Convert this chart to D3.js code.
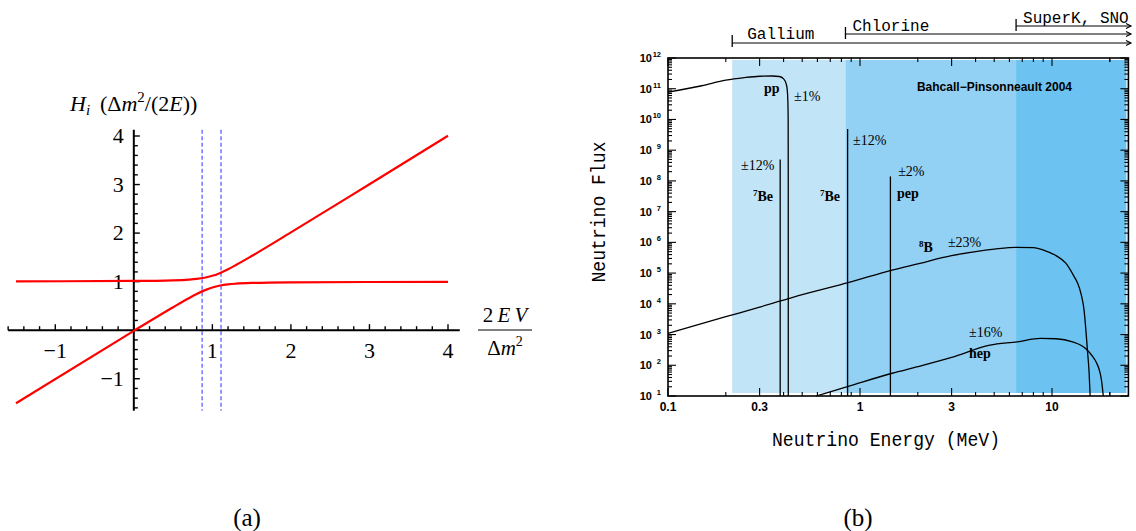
<!DOCTYPE html>
<html><head><meta charset="utf-8">
<script src="https://cdn.jsdelivr.net/npm/d3@7"></script>
<style>body{margin:0;background:#fff}svg{display:block}</style>
</head><body>
<svg id="c" width="1136" height="531"></svg>
<script>
// ---------------- Panel (a) data ----------------
const aX      = [-1.5, 0, 0.5, 0.7, 0.8, 0.9, 1.0, 1.1, 1.2, 1.3, 1.5, 2, 3, 4];
const aUpper  = [1.006, 1.014, 1.027, 1.042, 1.056, 1.08, 1.12, 1.18, 1.256, 1.342, 1.527, 2.014, 3.007, 4.005];
const aLower  = [-1.506, -0.014, 0.473, 0.658, 0.744, 0.82, 0.88, 0.92, 0.944, 0.958, 0.973, 0.986, 0.993, 0.995];
const aResonance = [0.87, 1.11];
const aXTicks = [-1, 1, 2, 3, 4];
const aYTicks = [-1, 1, 2, 3, 4];

// ---------------- Panel (b) data ----------------
const detectorNames = ["Gallium", "Chlorine", "SuperK, SNO"];
const detectorThresholds = [0.216, 0.84, 6.5];
const bandEdges = [0.216, 0.84, 6.5, 25];
const ppE    = [0.1, 0.15, 0.2, 0.25, 0.3, 0.35, 0.38, 0.40, 0.412, 0.418, 0.421, 0.4225, 0.423, 0.4232];
const ppFlux = [7.7e10, 1.25e11, 1.9e11, 2.3e11, 2.55e11, 2.6e11, 2.5e11, 2.1e11, 1.5e11, 9e10, 4e10, 1e10, 1e8, 10];
const b8E    = [0.1, 0.2, 0.3, 0.5, 0.877, 1.47, 2, 3, 4, 5, 6.5, 8, 9.1, 10.5, 11.8, 13, 13.6, 14.2, 14.7, 15.0, 15.3, 15.6, 15.8];
const b8Flux = [1.1e3, 3.8e3, 7.8e3, 2.0e4, 5.0e4, 1.25e5, 2.0e5, 3.7e5, 5.0e5, 6.0e5, 6.9e5, 6.7e5, 5.5e5, 3.7e5, 2.1e5, 8e4, 4.7e4, 2e4, 6e3, 1.5e3, 3e2, 60, 10];
const hepE    = [0.59, 0.877, 1.47, 2, 3, 4.75, 6.6, 8.7, 10.5, 12.8, 14.3, 15.3, 16.3, 17.1, 17.7, 18.1, 18.5];
const hepFlux = [10, 21, 55, 90, 180, 450, 580, 750, 730, 580, 430, 310, 190, 117, 65, 33, 10];
const lineNames = ["7Be", "7Be", "pep"];
const lineE     = [0.384, 0.862, 1.44];
const lineFlux  = [5e8, 4.9e9, 1.4e8];
const bXTickVals   = [0.1, 0.3, 1, 3, 10];
const bXTickLabels = ["0.1", "0.3", "1", "3", "10"];
const bYExponents  = [1, 2, 3, 4, 5, 6, 7, 8, 9, 10, 11, 12];

const svg = d3.select("#c");

// ================= Panel (a) =================
(function(){
  const x = d3.scaleLinear().domain([-1.5, 4]).range([16, 448]);
  const y = d3.scaleLinear().domain([-1.5, 4]).range([403, 136]);
  const g = svg.append("g");
  const serif = "Liberation Serif, Times New Roman, serif";

  g.selectAll("line.res").data(aResonance).enter().append("line")
    .attr("x1", d => x(d)).attr("x2", d => x(d))
    .attr("y1", y(4.13)).attr("y2", y(-1.66))
    .attr("stroke", "#7c7cff").attr("stroke-width", 1.6)
    .attr("stroke-dasharray", "4,2.5");

  g.append("line").attr("x1", x(-1.6)).attr("x2", x(4.15)).attr("y1", y(0)).attr("y2", y(0))
    .attr("stroke", "#000").attr("stroke-width", 2);
  g.append("line").attr("x1", x(0)).attr("x2", x(0)).attr("y1", y(4.13)).attr("y2", y(-1.66))
    .attr("stroke", "#000").attr("stroke-width", 2);

  const xMinor = d3.range(-16, 41, 2).map(v => v / 10);
  g.selectAll("line.xt").data(xMinor).enter().append("line")
    .attr("x1", d => x(d)).attr("x2", d => x(d))
    .attr("y1", y(0)).attr("y2", d => y(0) - (Number.isInteger(d) ? 6 : 4))
    .attr("stroke", "#000").attr("stroke-width", 1.4);
  const yMinor = d3.range(-16, 42, 2).map(v => v / 10);
  g.selectAll("line.yt").data(yMinor).enter().append("line")
    .attr("y1", d => y(d)).attr("y2", d => y(d))
    .attr("x1", x(0)).attr("x2", d => x(0) + (Number.isInteger(d) ? 6 : 4))
    .attr("stroke", "#000").attr("stroke-width", 1.4);

  g.selectAll("text.xl").data(aXTicks).enter().append("text")
    .attr("x", d => x(d)).attr("y", y(0) + 28)
    .attr("text-anchor", "middle").attr("font-family", serif).attr("font-size", 22)
    .text(d => d < 0 ? "\u2212" + Math.abs(d) : d);
  g.selectAll("text.yl").data(aYTicks).enter().append("text")
    .attr("x", x(0) - 10).attr("y", d => y(d) + 7)
    .attr("text-anchor", "end").attr("font-family", serif).attr("font-size", 22)
    .text(d => d < 0 ? "\u2212" + Math.abs(d) : d);

  const line = d3.line().x(d => x(d[0])).y(d => y(d[1])).curve(d3.curveMonotoneX);
  [aUpper, aLower].forEach(arr => {
    g.append("path").datum(aX.map((v, i) => [v, arr[i]]))
      .attr("d", line).attr("fill", "none").attr("stroke", "#ff0000").attr("stroke-width", 2.2);
  });

  const t = g.append("text").attr("x", 70).attr("y", 111).attr("font-family", serif).attr("font-size", 22);
  t.append("tspan").attr("font-style", "italic").text("H");
  t.append("tspan").attr("font-style", "italic").attr("font-size", 15).attr("dy", 4).text("i");
  t.append("tspan").attr("dy", -4).text("\u2009 (\u0394");
  t.append("tspan").attr("font-style", "italic").text("m");
  t.append("tspan").attr("font-size", 15).attr("dy", -9).text("2");
  t.append("tspan").attr("dy", 9).text("/(2");
  t.append("tspan").attr("font-style", "italic").text("E");
  t.append("tspan").text("))");

  const fx = 505;
  const n = g.append("text").attr("x", fx).attr("y", 322).attr("text-anchor", "middle")
    .attr("font-family", serif).attr("font-size", 21);
  n.append("tspan").text("2\u2009");
  n.append("tspan").attr("font-style", "italic").text("E\u2009V");
  g.append("line").attr("x1", 478).attr("x2", 532).attr("y1", 330).attr("y2", 330)
    .attr("stroke", "#000").attr("stroke-width", 1);
  const dd = g.append("text").attr("x", fx).attr("y", 355).attr("text-anchor", "middle")
    .attr("font-family", serif).attr("font-size", 21);
  dd.append("tspan").text("\u0394");
  dd.append("tspan").attr("font-style", "italic").text("m");
  dd.append("tspan").attr("font-size", 14).attr("dy", -9).text("2");

  svg.append("text").attr("x", 247).attr("y", 526).attr("text-anchor", "middle")
    .attr("font-family", serif).attr("font-size", 25).text("(a)");
})();

// ================= Panel (b) =================
(function(){
  const x = d3.scaleLog().domain([0.1, 25]).range([668, 1128.4]);
  const y = d3.scaleLog().domain([10, 1e12]).range([396, 58]);
  const g = svg.append("g");
  const mono = "Liberation Mono, Courier New, monospace";
  const sansB = "Liberation Sans, Arial, sans-serif";
  const serif = "Liberation Serif, Times New Roman, serif";

  const bandColors = ["#c2e4f7", "#92d1f4", "#6cc2f0"];
  g.selectAll("rect.band").data(d3.range(3)).enter().append("rect")
    .attr("x", i => x(bandEdges[i])).attr("width", i => x(bandEdges[i + 1]) - x(bandEdges[i]) - (i === 2 ? 2 : 0))
    .attr("y", y(1e12) + 2).attr("height", y(10) - y(1e12) - 5)
    .attr("fill", i => bandColors[i]);

  const line = d3.line().x(d => x(d[0])).y(d => y(d[1])).curve(d3.curveMonotoneX);
  [[ppE, ppFlux], [b8E, b8Flux], [hepE, hepFlux]].forEach(([E, F]) => {
    g.append("path").datum(E.map((v, i) => [v, F[i]]))
      .attr("d", line).attr("fill", "none").attr("stroke", "#000").attr("stroke-width", 1.3);
  });
  g.selectAll("line.ln").data(lineE).enter().append("line")
    .attr("x1", d => x(d)).attr("x2", d => x(d))
    .attr("y1", (d, i) => y(lineFlux[i])).attr("y2", y(10))
    .attr("stroke", "#000").attr("stroke-width", 1.3);

  g.append("rect").attr("x", x(0.1)).attr("y", y(1e12)).attr("width", x(25) - x(0.1)).attr("height", y(10) - y(1e12))
    .attr("fill", "none").attr("stroke", "#000").attr("stroke-width", 1.6);

  const xt = [];
  [0.1, 1, 10].forEach(dec => { for (let k = 1; k <= 9; k++) { const v = dec * k; if (v >= 0.1 && v <= 25) xt.push(v); } });
  xt.push(20);
  const isMajX = v => bXTickVals.some(t => Math.abs(t - v) < 1e-9);
  [y(10), y(1e12)].forEach((yy, side) => {
    g.selectAll(null).data(xt).enter().append("line")
      .attr("x1", d => x(d)).attr("x2", d => x(d))
      .attr("y1", yy).attr("y2", d => yy + (side === 0 ? -1 : 1) * (isMajX(d) ? 8 : 4))
      .attr("stroke", "#000").attr("stroke-width", 1.1);
  });
  g.selectAll("text.xl").data(bXTickVals).enter().append("text")
    .attr("x", d => x(d)).attr("y", y(10) + 15).attr("text-anchor", "middle")
    .attr("font-family", sansB).attr("font-weight", "bold").attr("font-size", 12)
    .text((d, i) => bXTickLabels[i]);

  const yt = [];
  for (let e = 1; e < 12; e++) for (let k = 1; k <= 9; k++) yt.push(k * Math.pow(10, e));
  yt.push(1e12);
  [x(0.1), x(25)].forEach((xx, side) => {
    g.selectAll(null).data(yt).enter().append("line")
      .attr("y1", d => y(d)).attr("y2", d => y(d))
      .attr("x1", xx).attr("x2", d => {
        const maj = Math.abs(Math.log10(d) - Math.round(Math.log10(d))) < 1e-9;
        return xx + (side === 0 ? 1 : -1) * (maj ? 8 : 4);
      })
      .attr("stroke", "#000").attr("stroke-width", 1.1);
  });
  const yl = g.selectAll("g.yl").data(bYExponents).enter().append("g");
  yl.append("text").attr("x", 652).attr("y", d => y(Math.pow(10, d)) + 4).attr("text-anchor", "end")
    .attr("font-family", sansB).attr("font-weight", "bold").attr("font-size", 11).text("10");
  yl.append("text").attr("x", 661).attr("y", d => y(Math.pow(10, d)) - 1).attr("text-anchor", "end")
    .attr("font-family", sansB).attr("font-weight", "bold").attr("font-size", 7.5).text(d => d);

  g.append("text").attr("x", 886).attr("y", 446).attr("text-anchor", "middle")
    .attr("font-family", mono).attr("font-size", 21)
    .attr("textLength", 228).attr("lengthAdjust", "spacingAndGlyphs")
    .text("Neutrino Energy (MeV)");
  g.append("text").attr("transform", "translate(605,212) rotate(-90)").attr("text-anchor", "middle")
    .attr("font-family", mono).attr("font-size", 21)
    .attr("textLength", 141).attr("lengthAdjust", "spacingAndGlyphs")
    .text("Neutrino Flux");

  const levels = [43, 34, 26];
  detectorThresholds.forEach((t, i) => {
    const yy = levels[i];
    g.append("line").attr("x1", x(t)).attr("x2", x(t)).attr("y1", yy - (i === 0 ? 8 : 7)).attr("y2", yy + (i === 0 ? 4 : 5))
      .attr("stroke", "#000").attr("stroke-width", 1.3);
    g.append("line").attr("x1", x(t)).attr("x2", 1131).attr("y1", yy).attr("y2", yy)
      .attr("stroke", "#000").attr("stroke-width", 1.1);
    g.append("path").attr("d", `M1126,${yy - 2.5} L1131,${yy} L1126,${yy + 2.5}`)
      .attr("fill", "none").attr("stroke", "#000").attr("stroke-width", 1.1);
    g.append("text").attr("x", x(t) + (i === 0 ? 15 : 7)).attr("y", yy - (i === 0 ? 4 : 3))
      .attr("font-family", mono).attr("font-size", 16).text(detectorNames[i]);
  });

  const ann = [
    {t: "pp", E: 0.316, F: 7.2e10, b: true},
    {t: "\u00b11%", E: 0.453, F: 4e10},
    {t: "\u00b112%", E: 0.92, F: 1.47e9},
    {t: "\u00b112%", E: 0.240, F: 2.26e8},
    {t: "\u00b12%", E: 1.58, F: 1.44e8},
    {t: "pep", E: 1.56, F: 2.77e7, b: true},
    {t: "\u00b123%", E: 2.87, F: 7.1e5},
    {t: "\u00b116%", E: 3.7, F: 832},
    {t: "hep", E: 3.7, F: 173, b: true}
  ];
  ann.forEach(a => {
    g.append("text").attr("x", x(a.E)).attr("y", y(a.F))
      .attr("font-family", serif).attr("font-size", 14).attr("font-weight", a.b ? "bold" : "normal")
      .text(a.t);
  });
  const iso = [
    {s: "7", t: "Be", E: 0.277, F: 2.2e7},
    {s: "7", t: "Be", E: 0.619, F: 2.2e7},
    {s: "8", t: "B", E: 2.03, F: 4.85e5}
  ];
  iso.forEach(a => {
    const tx = g.append("text").attr("x", x(a.E)).attr("y", y(a.F))
      .attr("font-family", serif).attr("font-size", 14).attr("font-weight", "bold");
    tx.append("tspan").attr("font-size", 9).attr("dy", -5).text(a.s);
    tx.append("tspan").attr("dy", 5).text(a.t);
  });
  g.append("text").attr("x", x(1.98)).attr("y", y(8.4e10))
    .attr("font-family", sansB).attr("font-weight", "bold").attr("font-size", 12)
    .text("Bahcall\u2212Pinsonneault 2004");

  svg.append("text").attr("x", 858).attr("y", 526).attr("text-anchor", "middle")
    .attr("font-family", serif).attr("font-size", 25).text("(b)");
})();
</script>
</body></html>
